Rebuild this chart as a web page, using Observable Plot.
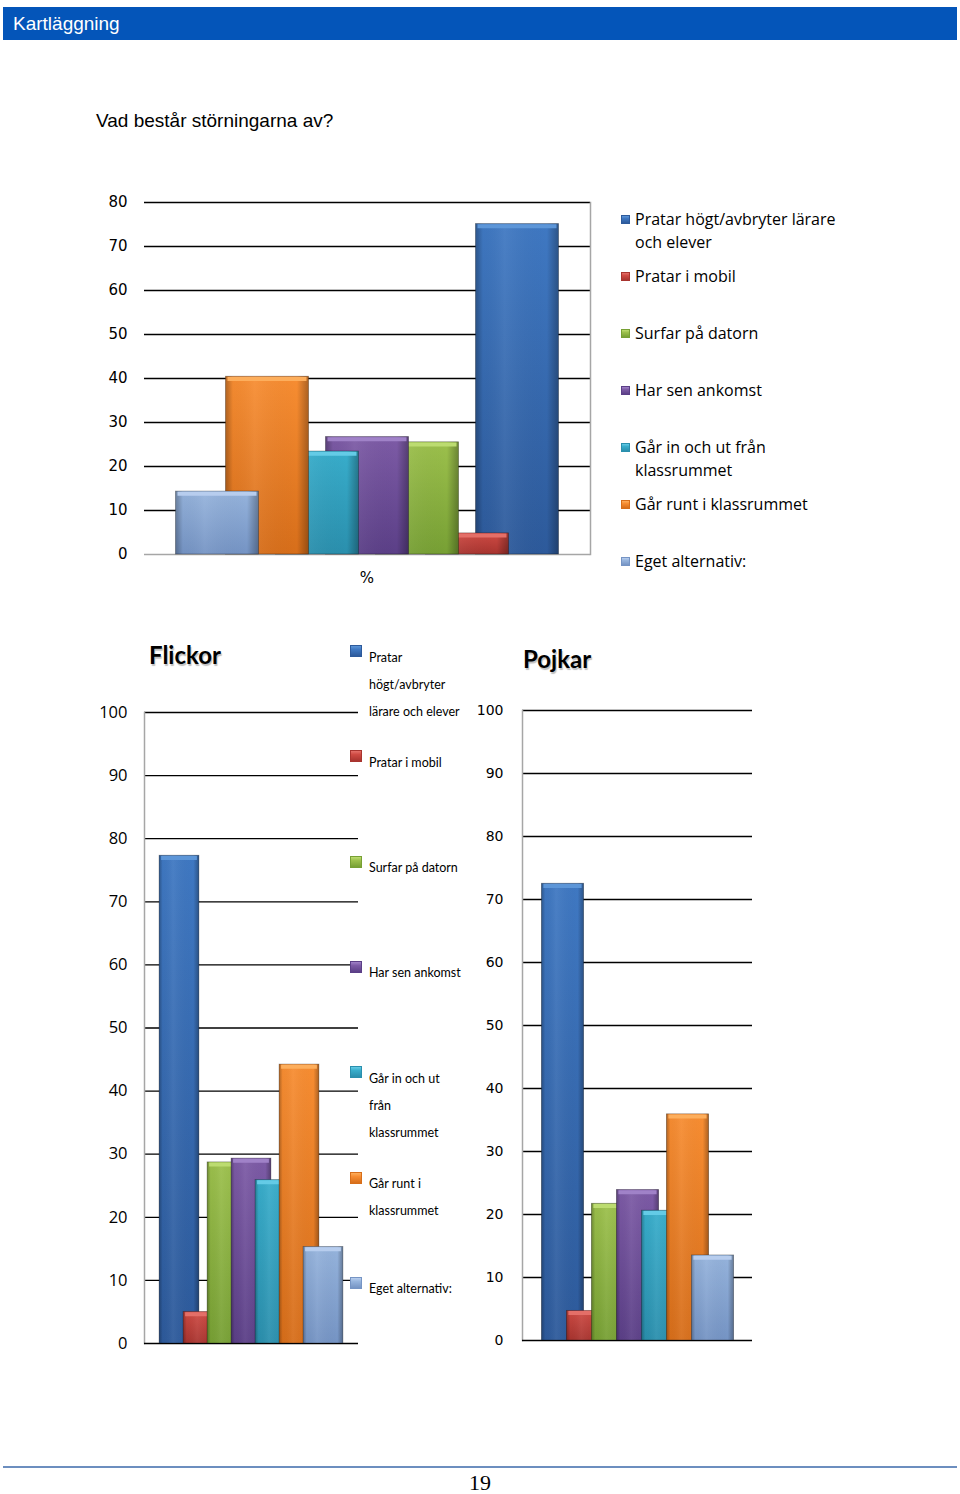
<!DOCTYPE html>
<html><head><meta charset="utf-8">
<script src="https://cdn.jsdelivr.net/npm/d3@7"></script>
<script src="https://cdn.jsdelivr.net/npm/@observablehq/plot@0.6"></script>
<style>
html,body{margin:0;padding:0;background:#fff;}
body{width:960px;height:1494px;position:relative;overflow:hidden;font-family:"Liberation Sans",Arial,sans-serif;color:#000;}
.abs{position:absolute;}
#header{left:3px;top:7px;width:954px;height:33px;background:#0455b9;color:#fff;font-size:19px;line-height:33px;padding-left:10px;box-sizing:border-box;}
#title{left:96px;top:109px;font-size:19px;line-height:24px;white-space:nowrap;}
#pct{left:347px;top:567px;width:40px;text-align:center;font-family:"DejaVu Sans";font-size:15px;line-height:22px;}
.leg1{position:absolute;left:621px;width:240px;font-family:"Open Sans";font-size:16px;line-height:23px;}
.leg1 .sw{position:absolute;left:0;top:7px;width:9px;height:9px;box-sizing:border-box;}
.leg1 .tx{position:absolute;left:14px;top:0;width:215px;}
.leg2{position:absolute;left:350px;width:130px;font-family:"Lato";font-size:12.5px;line-height:27px;}
.leg2 .sw{position:absolute;left:0;top:-12px;width:12px;height:12px;box-sizing:border-box;}
.leg2 .tx{position:absolute;left:19px;top:-13.5px;width:94px;}
.gtitle{position:absolute;font-family:"Lato";font-weight:bold;font-size:24px;line-height:30px;text-shadow:1px 2px 1px rgba(0,0,0,0.25);}
#footline{left:3px;top:1466px;width:954px;height:2px;background:#6c8ebf;}
#page{left:430px;top:1473px;width:100px;height:20px;text-align:center;font-family:"Liberation Serif",serif;font-size:22px;line-height:20px;}
svg.chart{position:absolute;overflow:visible;}
</style></head><body>
<svg width="0" height="0" style="position:absolute" id="defs"></svg>
<div id="header" class="abs">Kartläggning</div>
<div id="title" class="abs">Vad består störningarna av?</div>
<div id="pct" class="abs">%</div>
<div id="footline" class="abs"></div>
<div id="page" class="abs">19</div>
<script>
// ---- data ----
const SERIES = [
  "Pratar högt/avbryter lärare och elever",
  "Pratar i mobil",
  "Surfar på datorn",
  "Har sen ankomst",
  "Går in och ut från klassrummet",
  "Går runt i klassrummet",
  "Eget alternativ:"
];
const TOTAL_VALUES = [75.1, 4.8, 25.5, 26.7, 23.4, 40.4, 14.3];
const GIRLS_VALUES = [77.3, 5.0, 28.7, 29.3, 25.9, 44.2, 15.3];
const BOYS_VALUES  = [72.5, 4.7, 21.7, 23.9, 20.6, 35.9, 13.5];
const TOTAL_TICKS = [0, 10, 20, 30, 40, 50, 60, 70, 80];
const GENDER_TICKS = [0, 10, 20, 30, 40, 50, 60, 70, 80, 90, 100];
const GIRLS_TITLE = "Flickor";
const BOYS_TITLE = "Pojkar";
const LEGEND2_LABELS = SERIES;

// ---- styles ----
const BODY_LIGHT = ["#3f78c2", "#cf4a43", "#9cc04c", "#7d5ba6", "#38adcb", "#f78d32", "#95b3dc"];
const BODY_DARK  = ["#2d5a9b", "#a8342f", "#77a034", "#5b3f87", "#2a8fad", "#d76e1a", "#7594c4"];
const CAP        = ["#5d96d8", "#e46f68", "#bcdc70", "#a082c8", "#64cbe6", "#fdae5c", "#b7cdee"];

// gradient definitions
const defs = document.getElementById("defs");
let dh = "<defs>";
BODY_LIGHT.forEach((c, i) => {
  dh += `<linearGradient id="body${i}" x1="0" y1="0" x2="0" y2="1"><stop offset="0" stop-color="${c}"/><stop offset="1" stop-color="${BODY_DARK[i]}"/></linearGradient>`;
});
dh += `<linearGradient id="side" x1="0" y1="0" x2="1" y2="0">
<stop offset="0" stop-color="#000" stop-opacity="0.28"/>
<stop offset="0.09" stop-color="#000" stop-opacity="0.02"/>
<stop offset="0.35" stop-color="#fff" stop-opacity="0.06"/>
<stop offset="0.86" stop-color="#000" stop-opacity="0.0"/>
<stop offset="1" stop-color="#000" stop-opacity="0.3"/></linearGradient>`;
dh += "</defs>";
defs.innerHTML = dh;

function chart(o) {
  const data = SERIES.map((s, i) => ({s, v: o.values[i], i}));
  const marks = [
    Plot.ruleY(o.ticks.filter(t => t > 0), {stroke: "#000", strokeWidth: 1.3}),
  ];
  if (o.frameAnchor) marks.push(Plot.frame({anchor: o.frameAnchor, stroke: "#a6a6a6", strokeWidth: 1.5}));
  marks.push(Plot.ruleY([0], {stroke: o.zeroStroke, strokeWidth: 1.5}));
  data.forEach(d => {
    const one = [d];
    marks.push(Plot.barY(one, {x: "s", y: "v", fill: `url(#body${d.i})`, stroke: "rgba(0,0,0,0.35)", strokeWidth: 0.8, insetLeft: -o.overlap, insetRight: -o.overlap}));
    marks.push(Plot.barY(one, {x: "s", y: "v", fill: "url(#side)", insetLeft: -o.overlap, insetRight: -o.overlap}));
    marks.push(Plot.tickY(one, {x: "s", y: "v", stroke: CAP[d.i], strokeWidth: 4, dy: 2.2, insetLeft: -o.overlap + 2, insetRight: -o.overlap + 2}));
  });
  const svg = Plot.plot({
    width: o.width, height: o.height,
    marginTop: o.mt, marginBottom: o.mb, marginLeft: o.ml, marginRight: o.mr,
    x: {domain: o.order, paddingInner: 0, paddingOuter: o.po, axis: null},
    y: {domain: [0, o.yMax], ticks: o.ticks, tickSize: 0, tickPadding: o.tickPad, label: null},
    style: {fontFamily: o.font, fontSize: o.fontSize + "px", color: "#000", background: "transparent", overflow: "visible"},
    marks
  });
  svg.classList.add("chart");
  svg.style.left = o.left + "px";
  svg.style.top = o.top + "px";
  document.body.appendChild(svg);
}

// Top chart: all students, categories in reverse order left to right
chart({values: TOTAL_VALUES, order: SERIES.slice().reverse(), width: 600, height: 412,
  mt: 22, mb: 38, ml: 144, mr: 10, yMax: 80, ticks: TOTAL_TICKS, po: 0.945, overlap: 16.5,
  tickPad: 17, font: "DejaVu Sans", fontSize: 15, zeroStroke: "#a6a6a6", frameAnchor: "right",
  left: 0, top: 180});

// Flickor
chart({values: GIRLS_VALUES, order: SERIES, width: 360, height: 673,
  mt: 22, mb: 20, ml: 144, mr: 2, yMax: 100, ticks: GENDER_TICKS, po: 0.93, overlap: 7.9,
  tickPad: 17, font: "Open Sans", fontSize: 16.5, zeroStroke: "#000", frameAnchor: "left",
  left: 0, top: 690});

// Pojkar
chart({values: BOYS_VALUES, order: SERIES, width: 292, height: 672,
  mt: 22, mb: 20, ml: 52, mr: 10, yMax: 100, ticks: GENDER_TICKS, po: 0.955, overlap: 8.6,
  tickPad: 19, font: "DejaVu Sans", fontSize: 14, zeroStroke: "#000", frameAnchor: "left",
  left: 470, top: 688});

// Legend swatch style
function swatchStyle(i) {
  return `background:linear-gradient(${CAP[i]} 0%, ${BODY_LIGHT[i]} 35%, ${BODY_DARK[i]} 100%);border:1px solid ${BODY_DARK[i]};`;
}

// Top legend
SERIES.forEach((s, i) => {
  const el = document.createElement("div");
  el.className = "leg1";
  el.style.top = (207.5 + 57 * i) + "px";
  el.innerHTML = `<div class="sw" style="${swatchStyle(i)}"></div><div class="tx">${s}</div>`;
  document.body.appendChild(el);
});

// Small legend (Flickor)
LEGEND2_LABELS.forEach((s, i) => {
  const el = document.createElement("div");
  el.className = "leg2";
  el.style.top = (657 + 105.3 * i) + "px";
  el.innerHTML = `<div class="sw" style="${swatchStyle(i)}"></div><div class="tx">${s}</div>`;
  document.body.appendChild(el);
});

// Titles
const t1 = document.createElement("div");
t1.className = "gtitle"; t1.style.left = "149px"; t1.style.top = "640px"; t1.textContent = GIRLS_TITLE;
document.body.appendChild(t1);
const t2 = document.createElement("div");
t2.className = "gtitle"; t2.style.left = "523px"; t2.style.top = "644px"; t2.textContent = BOYS_TITLE;
document.body.appendChild(t2);
</script>
</body></html>
